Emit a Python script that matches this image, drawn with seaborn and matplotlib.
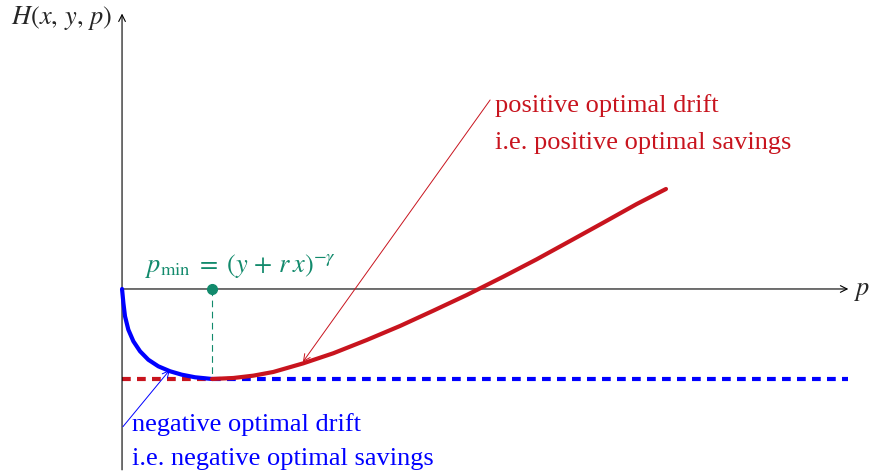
import numpy as np
import pandas as pd
import matplotlib
matplotlib.use("Agg")
import matplotlib.pyplot as plt
import seaborn as sns

sns.set_theme(style="white")
plt.rcParams['font.family'] = ['Liberation Serif', 'DejaVu Serif']
plt.rcParams['mathtext.fontset'] = 'stix'

# values (p_min = 1, H(p_min) = -1)
p_neg = [0.0, 0.015, 0.033, 0.07, 0.126, 0.2, 0.292, 0.403, 0.533, 0.663, 0.811, 1.0]
h_neg = [0.0, -0.156, -0.303, -0.452, -0.581, -0.692, -0.786, -0.859, -0.914, -0.952, -0.981, -1.0]

p_pos = [1.0, 1.237, 1.459, 1.681, 2.014, 2.348, 2.719, 3.089, 3.459, 3.83,
         4.237, 4.608, 4.978, 5.348, 5.719, 6.044]
h_pos = [-1.0, -0.989, -0.963, -0.922, -0.826, -0.714, -0.567, -0.411, -0.241, -0.067,
         0.137, 0.330, 0.533, 0.737, 0.944, 1.111]

p_min = 1.0
h_min = -1.0
p_end = 8.07

RED = "#c8141e"
BLUE = "#0000ff"
GREEN = "#128a6c"

neg = pd.DataFrame({"p": p_neg, "H": h_neg})
pos = pd.DataFrame({"p": p_pos, "H": h_pos})

fig = plt.figure(figsize=(8.7, 4.76), dpi=100)
ax = fig.add_axes([0, 0, 1, 1])
ax.set_xlim(-1.356, 8.311)
ax.set_ylim(-2.078, 3.211)
ax.axis("off")

# axes with arrow tips
ax.annotate("", xy=(p_end, 0), xytext=(0, 0),
            arrowprops=dict(arrowstyle="->", lw=0.8, color="black", shrinkA=0, shrinkB=0))
ax.annotate("", xy=(0, 3.06), xytext=(0, -2.01),
            arrowprops=dict(arrowstyle="->", lw=0.8, color="black", shrinkA=0, shrinkB=0))
ax.text(-0.103, 2.944, r"$H(x,\, y,\, p)$", ha="right", va="baseline", fontsize=19)
ax.text(8.13, -0.067, r"$p$", ha="left", va="baseline", fontsize=19)

# dashed level of the minimum
ax.plot([0, p_min], [h_min, h_min], color=RED, lw=3, ls=(0, (2.1, 1.5)), zorder=2)
ax.plot([p_min, p_end], [h_min, h_min], color=BLUE, lw=3, ls=(0, (2.1, 1.5)), zorder=2)

# curves
sns.lineplot(data=neg, x="p", y="H", color=BLUE, lw=3, sort=False, ax=ax, zorder=3)
sns.lineplot(data=pos, x="p", y="H", color=RED, lw=3, sort=False, ax=ax, zorder=3)

# p_min marker
ax.plot([p_min, p_min], [0, h_min], color=GREEN, lw=0.8, ls=(0, (6, 4)), zorder=2)
ax.plot([p_min], [0], "o", color=GREEN, ms=7, zorder=4)
ax.text(0.256, 0.192, r"$p_{\min}\;=\;(y\,+\,r\,x)^{-\gamma}$", color=GREEN, fontsize=19,
        ha="left", va="baseline")

# annotations
ax.annotate("", xy=(2.01, -0.81), xytext=(4.09, 2.1),
            arrowprops=dict(arrowstyle="->", lw=0.7, color=RED, shrinkA=0, shrinkB=0))
ax.text(4.144, 1.963, "positive optimal drift", color=RED, fontsize=19, ha="left", va="baseline")
ax.text(4.144, 1.552, "i.e. positive optimal savings", color=RED, fontsize=19, ha="left", va="baseline")

ax.annotate("", xy=(0.53, -0.9), xytext=(0.01, -1.53),
            arrowprops=dict(arrowstyle="->", lw=0.7, color=BLUE, shrinkA=0, shrinkB=0))
ax.text(0.108, -1.574, "negative optimal drift", color=BLUE, fontsize=19, ha="left", va="baseline")
ax.text(0.108, -1.956, "i.e. negative optimal savings", color=BLUE, fontsize=19, ha="left", va="baseline")

fig.savefig("out.png", dpi=100)
